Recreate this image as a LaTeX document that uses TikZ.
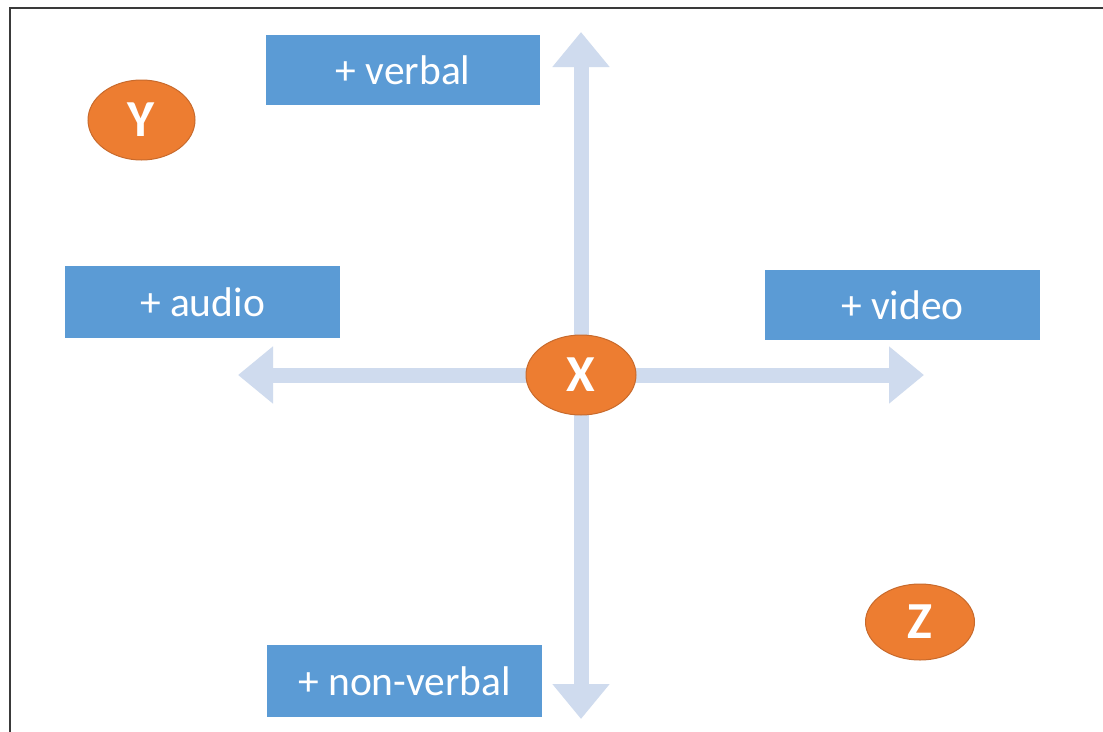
\documentclass[tikz,border=0pt]{standalone}
\usepackage{fontspec}
\setmainfont{Carlito}
\usetikzlibrary{arrows.meta}
\definecolor{boxblue}{HTML}{5B9BD5}
\definecolor{arrowblue}{HTML}{CFDBEE}
\definecolor{orangefill}{HTML}{ED7D31}
\definecolor{orangeline}{HTML}{C86A2C}
\definecolor{framegray}{HTML}{3A3A3A}
\tikzset{
  labelbox/.style={fill=boxblue, draw=none, text=white, inner sep=0pt,
    font=\fontsize{41.5}{48}\selectfont},
  oval/.style={ellipse, fill=orangefill, draw=orangeline, line width=1pt,
    text=white, inner sep=0pt, font=\bfseries\fontsize{52}{58}\selectfont},
  axis/.style={draw=arrowblue, line width=15pt,
    -{Triangle[length=35pt,width=55pt]}},
}
\usetikzlibrary{shapes.geometric}
\begin{document}
\begin{tikzpicture}[x=1pt,y=-1pt]
\useasboundingbox (0,0) rectangle (1103,731);
\fill[white] (0,0) rectangle (1103,731);
% frame
\draw[framegray, line width=1.8pt] (10,745) -- (10,8) -- (1115,8);
% axes
\coordinate (c) at (581,375);
\coordinate (tipL) at (238,375);
\coordinate (tipR) at (924,375);
\coordinate (tipU) at (581,32);
\coordinate (tipD) at (581,719);
\draw[axis] (c) -- (tipL);
\draw[axis] (c) -- (tipR);
\draw[axis] (c) -- (tipU);
\draw[axis] (c) -- (tipD);
% boxes
\node[labelbox, minimum width=274pt, minimum height=70pt] (verbal) at (403,70) {+ verbal};
\node[labelbox, minimum width=275pt, minimum height=72pt] (audio) at (202.5,302) {+ audio};
\node[labelbox, minimum width=275pt, minimum height=70pt] (video) at (902.5,305) {+ video};
\node[labelbox, minimum width=275pt, minimum height=72pt] (nonverbal) at (404.5,681) {+ non-verbal};
% ovals
\node[oval, minimum width=110pt, minimum height=80pt] (X) at (c) {X};
\node[oval, minimum width=107pt, minimum height=80pt] (Y) at (141.5,120) {Y};
\node[oval, minimum width=109pt, minimum height=76pt] (Z) at (920,622) {Z};
\end{tikzpicture}
\end{document}
